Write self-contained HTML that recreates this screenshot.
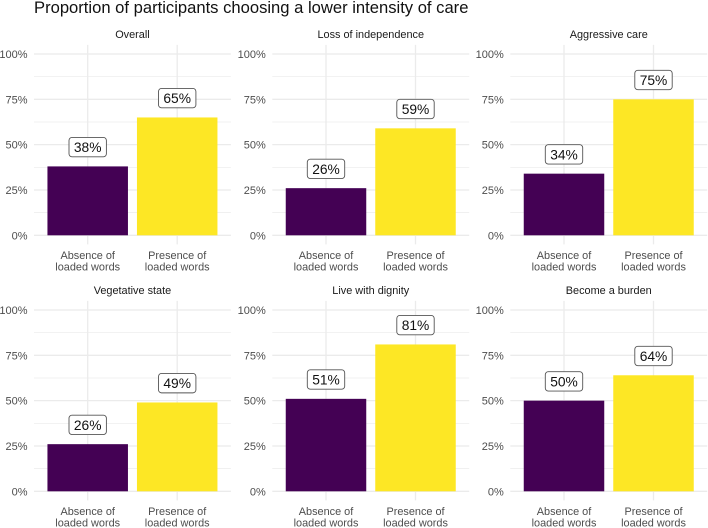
<!DOCTYPE html>
<html>
<head>
<meta charset="utf-8">
<style>
html,body{margin:0;padding:0;background:#fff;width:708px;height:528px;overflow:hidden}
svg{display:block;font-family:"Liberation Sans",sans-serif}
</style>
</head>
<body>
<svg id="chart" width="708" height="528" viewBox="0 0 708 528" xmlns="http://www.w3.org/2000/svg">
<text x="34" y="13" font-size="16.6" fill="#111">Proportion of participants choosing a lower intensity of care</text>
</svg>
<script>
const facets = ['Overall', 'Loss of independence', 'Aggressive care', 'Vegetative state', 'Live with dignity', 'Become a burden'];
const absenceValues = [38, 26, 34, 26, 51, 50];
const presenceValues = [65, 59, 75, 49, 81, 64];
const yTicks = [0, 25, 50, 75, 100];
const yMinorTicks = [12.5, 37.5, 62.5, 87.5];
const categoryLines = [['Absence of', 'loaded words'], ['Presence of', 'loaded words']];
const barColors = ['#440154', '#FDE725'];

const NS = 'http://www.w3.org/2000/svg';
const svg = document.getElementById('chart');
const colCenter = [87.7, 326, 564];
const rowZero = [235.3, 491.3];
const plotH = 181.3;
const catStep = 89.5;
const barW = 80.5;

function add(parent, tag, attrs, text) {
  const el = document.createElementNS(NS, tag);
  for (const k in attrs) el.setAttribute(k, attrs[k]);
  if (text !== undefined) el.textContent = text;
  parent.appendChild(el);
  return el;
}
function yScale(row, v) { return rowZero[row] - v / 100 * plotH; }
function xScale(col, i) { return colCenter[col] + i * catStep; }

facets.forEach(function (name, idx) {
  const col = idx % 3;
  const row = Math.floor(idx / 3);
  const left = xScale(col, 0) - 0.6 * catStep;
  const right = xScale(col, 1) + 0.6 * catStep;
  const top = yScale(row, 105);
  const bottom = yScale(row, -5);

  const g = add(svg, 'g', {});
  
  

  const strip = add(g, 'text', {x: (left + right) / 2, y: top - 6.8, 'font-size': 10.9, fill: '#1a1a1a', 'text-anchor': 'middle'}, name);
  
  

  yMinorTicks.forEach(function (t) {
    const y = yScale(row, t);
    const line = add(g, 'line', {x1: left, x2: right, y1: y, y2: y, stroke: '#ebebeb', 'stroke-width': 0.7});
    
    
  });
  yTicks.forEach(function (t) {
    const y = yScale(row, t);
    const line = add(g, 'line', {x1: left, x2: right, y1: y, y2: y, stroke: '#ebebeb', 'stroke-width': 1.3});
    
    
    const label = add(g, 'text', {x: left - 6.5, y: y + 4, 'font-size': 11, fill: '#4d4d4d', 'text-anchor': 'end'}, t + '%');
    
    
  });

  [absenceValues[idx], presenceValues[idx]].forEach(function (v, i) {
    const cx = xScale(col, i);
    const vline = add(g, 'line', {x1: cx, x2: cx, y1: top, y2: bottom, stroke: '#ebebeb', 'stroke-width': 1.3});
    
    

    const bar = add(g, 'rect', {x: cx - barW / 2, y: yScale(row, v), width: barW, height: yScale(row, 0) - yScale(row, v), fill: barColors[i]});
    
    

    const cy = yScale(row, v) - 19.3;
    const box = add(g, 'rect', {x: cx - 18.7, y: cy - 9.7, width: 37.4, height: 19.4, rx: 3, ry: 3, fill: '#fff', stroke: '#555', 'stroke-width': 0.9});
    
    
    const val = add(g, 'text', {x: cx, y: cy + 4.9, 'font-size': 13.8, fill: '#111', 'text-anchor': 'middle'}, v + '%');
    
    

    categoryLines[i].forEach(function (ln, j) {
      const t = add(g, 'text', {x: cx, y: bottom + 14.4 + j * 11.7, 'font-size': 10.9, fill: '#4d4d4d', 'text-anchor': 'middle'}, ln);
      
      
    });
  });
});
</script>
</body>
</html>
